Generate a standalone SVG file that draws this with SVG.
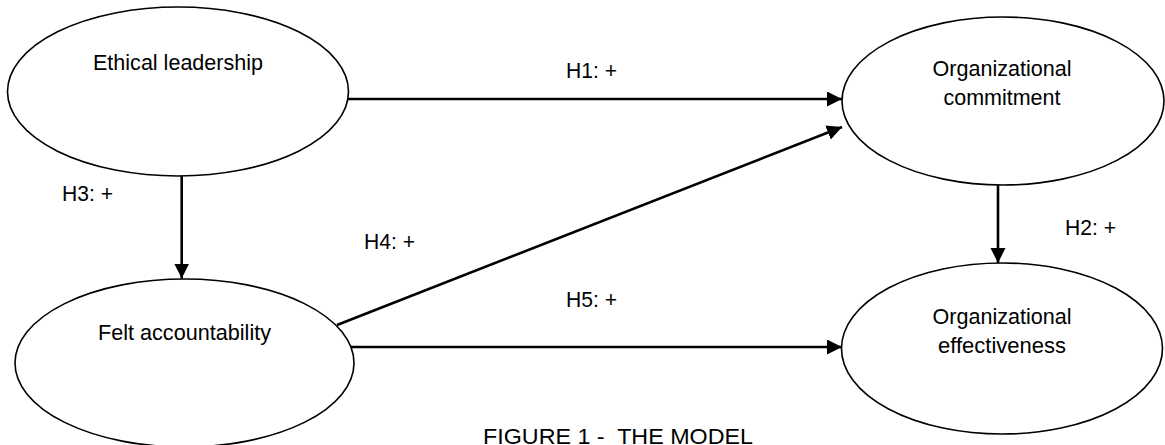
<svg xmlns="http://www.w3.org/2000/svg" width="1165" height="445" viewBox="0 0 1165 445">
<style>
.node{fill:#fff;stroke:#000;stroke-width:1.6}
.lbl{font-family:"Liberation Sans",Arial,sans-serif;font-size:22.5px;fill:#000}
.c{text-anchor:middle}
.edge{stroke:#000;stroke-width:2.6;fill:none}
</style>
<defs>
<marker id="arr" markerUnits="userSpaceOnUse" markerWidth="16" markerHeight="16" refX="15" refY="7.5" orient="auto">
<path d="M0,0 L15,7.5 L0,15 z" fill="#000"/>
</marker>
</defs>
<rect width="1165" height="445" fill="#fff"/>
<g id="ethical-leadership">
<ellipse class="node" cx="178" cy="91.5" rx="170.5" ry="84.5"/>
<text class="lbl c" x="178" y="70" textLength="170" lengthAdjust="spacingAndGlyphs">Ethical leadership</text>
</g>
<g id="felt-accountability">
<ellipse class="node" cx="184.5" cy="363" rx="169.5" ry="84"/>
<text class="lbl c" x="184.5" y="340" textLength="173" lengthAdjust="spacingAndGlyphs">Felt accountability</text>
</g>
<g id="organizational-commitment">
<ellipse class="node" cx="1003" cy="101" rx="161" ry="84"/>
<text class="lbl c" x="1002" y="76" textLength="139" lengthAdjust="spacingAndGlyphs">Organizational</text>
<text class="lbl c" x="1002" y="105" textLength="117" lengthAdjust="spacingAndGlyphs">commitment</text>
</g>
<g id="organizational-effectiveness">
<ellipse class="node" cx="1002" cy="348.5" rx="160.5" ry="85.5"/>
<text class="lbl c" x="1002" y="324" textLength="139" lengthAdjust="spacingAndGlyphs">Organizational</text>
<text class="lbl c" x="1002" y="353" textLength="128" lengthAdjust="spacingAndGlyphs">effectiveness</text>
</g>
<g id="connectors">
<line class="edge" x1="348" y1="99" x2="842" y2="99" marker-end="url(#arr)"/>
<line class="edge" x1="998" y1="185" x2="998" y2="263" marker-end="url(#arr)"/>
<line class="edge" x1="181.7" y1="176" x2="181.7" y2="278.5" marker-end="url(#arr)"/>
<line class="edge" x1="337" y1="325" x2="842" y2="127" marker-end="url(#arr)"/>
<line class="edge" x1="351" y1="347" x2="842" y2="347" marker-end="url(#arr)"/>
<text class="lbl" x="566" y="78" textLength="51" lengthAdjust="spacingAndGlyphs">H1: +</text>
<text class="lbl" x="1065" y="235" textLength="51" lengthAdjust="spacingAndGlyphs">H2: +</text>
<text class="lbl" x="62" y="201" textLength="51" lengthAdjust="spacingAndGlyphs">H3: +</text>
<text class="lbl" x="364" y="249" textLength="51" lengthAdjust="spacingAndGlyphs">H4: +</text>
<text class="lbl" x="566" y="307" textLength="51" lengthAdjust="spacingAndGlyphs">H5: +</text>
</g>
<text class="lbl" x="483" y="444" style="font-size:22.5px" textLength="270" lengthAdjust="spacingAndGlyphs" xml:space="preserve">FIGURE 1 -  THE MODEL</text>
</svg>
